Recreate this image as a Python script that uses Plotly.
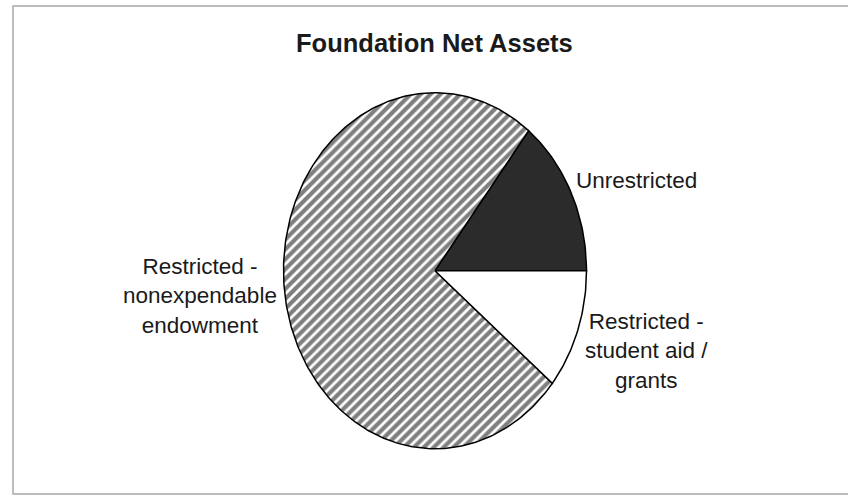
import numpy as np
import plotly.graph_objects as go

# Share of net assets by category (percent)
categories = ["Unrestricted", "Restricted - nonexpendable endowment", "Restricted - student aid / grants"]
shares = [14.4, 74.7, 10.9]
label_texts = ["Unrestricted", "Restricted -<br>nonexpendable<br>endowment", "Restricted -<br>student aid /<br>grants"]

W, H = 848, 499
CX, CY = 435.0, 270.7      # pie centre (px)
RX, RY = 151.5, 178.0      # pie radii (px) - drawn as an ellipse

# axis ranges so that the unit circle lands on the ellipse above
x_range = [-CX / RX, (W - CX) / RX]
y_range = [-(H - CY) / RY, CY / RY]

fills = [
    dict(fillcolor="#2b2b2b"),
    dict(fillcolor="white",
         fillpattern=dict(shape="/", size=7, solidity=0.6, fgcolor="black", bgcolor="white")),
    dict(fillcolor="white"),
]

fig = go.Figure()

# slices run counter-clockwise starting at 3 o'clock
total = sum(shares)
start = 0.0
for name, val, style in zip(categories, shares, fills):
    span = 2 * np.pi * val / total
    t = np.linspace(start, start + span, max(8, int(360 * val / total)))
    xs = np.concatenate([[0], np.cos(t), [0]])
    ys = np.concatenate([[0], np.sin(t), [0]])
    fig.add_trace(go.Scatter(
        x=xs, y=ys, mode="lines", fill="toself", name=name,
        line=dict(color="black", width=1.5), hoverinfo="skip", **style))
    start += span


def px(x, y):
    return x / W, 1 - y / H


label_pos = [(636, 180), (200, 296), (646, 351)]
for txt, (lx, ly) in zip(label_texts, label_pos):
    ax, ay = px(lx, ly)
    fig.add_annotation(text=txt, x=ax, y=ay, xref="paper", yref="paper",
                       showarrow=False, xanchor="center", yanchor="middle",
                       font=dict(family="Liberation Sans, Arial, sans-serif", size=22.5, color="#1a1a1a"))

tx, ty = px(434, 43)
fig.add_annotation(text="<b>Foundation Net Assets</b>", x=tx, y=ty, xref="paper", yref="paper",
                   showarrow=False, xanchor="center", yanchor="middle",
                   font=dict(family="Liberation Sans, Arial, sans-serif", size=25.5, color="#1a1a1a"))

# chart frame
fig.add_shape(type="rect", xref="paper", yref="paper",
              x0=13 / W, x1=1.02, y0=1 - 494 / H, y1=1 - 6 / H,
              line=dict(color="#a8a8a8", width=1.5))

fig.update_layout(
    width=W, height=H, margin=dict(l=0, r=0, t=0, b=0),
    paper_bgcolor="white", plot_bgcolor="white", showlegend=False,
    xaxis=dict(range=x_range, visible=False, fixedrange=True),
    yaxis=dict(range=y_range, visible=False, fixedrange=True),
)

fig.write_html("out.html")
